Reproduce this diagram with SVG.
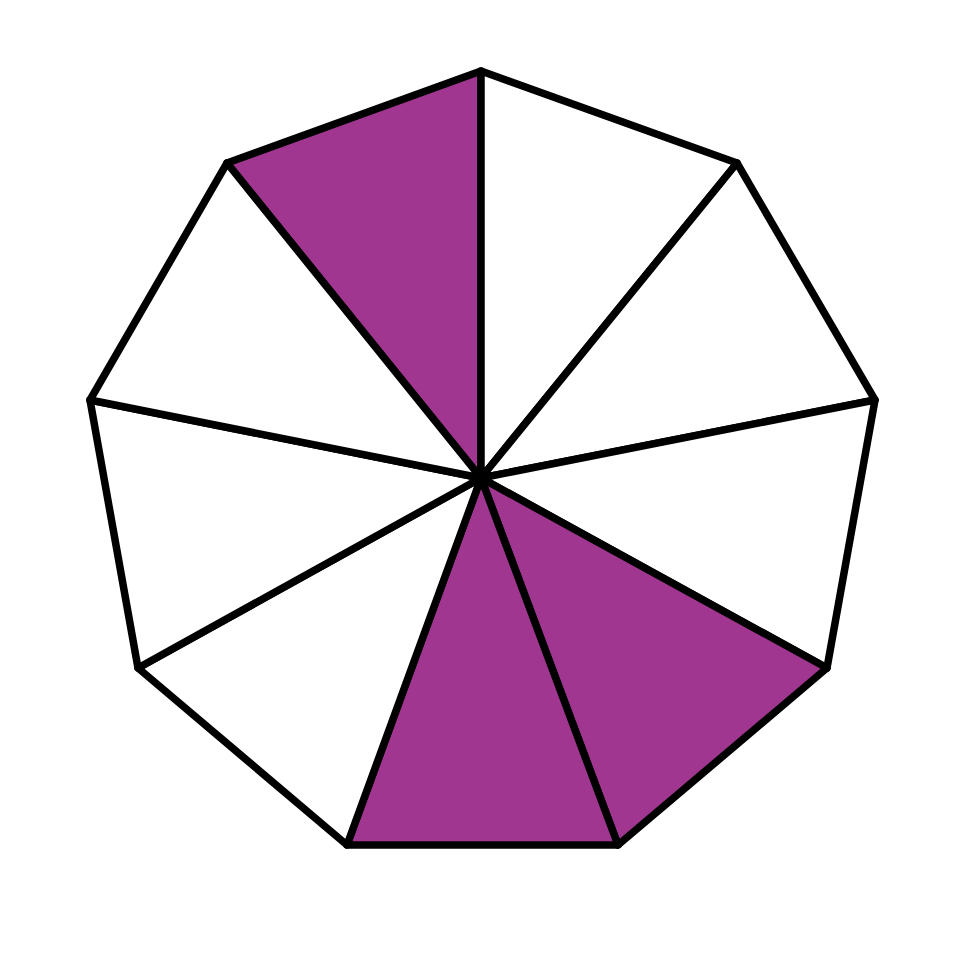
<svg xmlns="http://www.w3.org/2000/svg" width="958" height="958" viewBox="0 0 958 958">
<style>
.s{stroke:#000;stroke-width:7.5;stroke-linejoin:round;stroke-linecap:round}
.p{fill:#a0368f}
.w{fill:#fff}
</style>
<rect width="958" height="958" fill="#fff"/>
<g id="sectors">
<polygon id="s1" class="s p" points="481,478 481,71 227,163"/>
<polygon id="s2" class="s w" points="481,478 481,71 737,163"/>
<polygon id="s3" class="s w" points="481,478 737,163 875,400"/>
<polygon id="s4" class="s w" points="481,478 875,400 827,668"/>
<polygon id="s5" class="s p" points="481,478 827,668 618,845"/>
<polygon id="s6" class="s p" points="481,478 618,845 347,845"/>
<polygon id="s7" class="s w" points="481,478 347,845 138,668"/>
<polygon id="s8" class="s w" points="481,478 138,668 90,400"/>
<polygon id="s9" class="s w" points="481,478 90,400 227,163"/>
</g>
</svg>
